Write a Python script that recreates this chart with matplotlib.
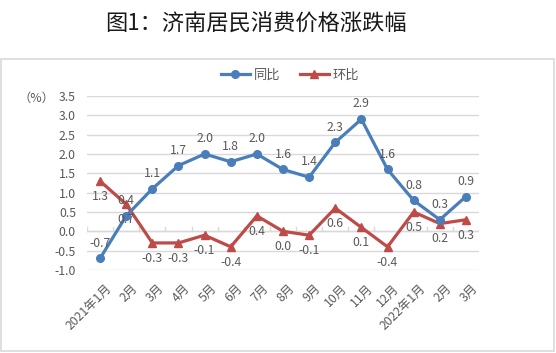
import matplotlib
matplotlib.use("Agg")
import matplotlib.pyplot as plt
from matplotlib.patches import Rectangle
from matplotlib.lines import Line2D
import matplotlib.transforms as mtransforms

plt.rcParams['font.family'] = ['Noto Sans CJK SC', 'DejaVu Sans']

categories = ["2021年1月", "2月", "3月", "4月", "5月", "6月", "7月", "8月", "9月",
              "10月", "11月", "12月", "2022年1月", "2月", "3月"]
yoy = [-0.7, 0.4, 1.1, 1.7, 2.0, 1.8, 2.0, 1.6, 1.4, 2.3, 2.9, 1.6, 0.8, 0.3, 0.9]
mom = [1.3, 0.7, -0.3, -0.3, -0.1, -0.4, 0.4, 0.0, -0.1, 0.6, 0.1, -0.4, 0.5, 0.2, 0.3]
yticks = [-1.0, -0.5, 0.0, 0.5, 1.0, 1.5, 2.0, 2.5, 3.0, 3.5]

W, H = 556, 353
fig = plt.figure(figsize=(W / 100, H / 100), dpi=100)
ax = fig.add_axes([87 / W, 1 - 270 / H, (479 - 87) / W, (270 - 96) / H])

blue = '#4A7EBB'
red = '#BE4B48'
txt = '#595959'
grid = '#D9D9D9'
fs = 8.8

x = list(range(len(categories)))
ax.plot(x, yoy, color=blue, lw=2.3, marker='o', ms=5.5, zorder=4, label='同比')
ax.plot(x, mom, color=red, lw=2.3, marker='^', ms=6, zorder=3, label='环比')

for i, v in enumerate(yoy):
    ax.annotate(f"{v:.1f}", (i, v), xytext=(0, 11), textcoords='offset points',
                ha='center', va='center', fontsize=fs, color=txt, zorder=5)
for i, v in enumerate(mom):
    ax.annotate(f"{v:.1f}", (i, v), xytext=(0, -11), textcoords='offset points',
                ha='center', va='center', fontsize=fs, color=txt, zorder=5)

ax.set_xlim(-0.5, len(categories) - 0.5)
ax.set_ylim(-1.0, 3.5)
ax.set_yticks(yticks)
ax.set_yticklabels([f"{t:.1f}" for t in yticks], fontsize=fs, color=txt)
ax.yaxis.grid(True, color=grid, lw=1)
ax.set_axisbelow(True)
ax.tick_params(axis='y', length=0, pad=8)
ax.tick_params(axis='x', length=0, labelbottom=False)
for s in ax.spines.values():
    s.set_visible(False)

# category axis at zero
ax.axhline(0, color=grid, lw=1, zorder=1)
for b in [i - 0.5 for i in range(len(categories) + 1)]:
    ax.plot([b, b], [0, 0.1], color=grid, lw=1, zorder=1)

# rotated category labels
trans = mtransforms.blended_transform_factory(ax.transData, ax.transAxes)
for i, c in enumerate(categories):
    ax.text(i + 0.2, -0.07, c, transform=trans, rotation=45, ha='right', va='top',
            rotation_mode='anchor', fontsize=fs, color=txt)

# title
fig.text(256 / W, 1 - 24 / H, "图1：济南居民消费价格涨跌幅", ha='center', va='center',
         fontsize=16, color='#1a1a1a')
# unit
fig.text(36 / W, 1 - 98 / H, "（%）", ha='center', va='center', fontsize=fs, color=txt)

# legend
leg_handles = [Line2D([0], [0], color=blue, lw=2.3, marker='o', ms=5.5),
               Line2D([0], [0], color=red, lw=2.3, marker='^', ms=6)]
fig.legend(leg_handles, ['同比', '环比'], loc='center', bbox_to_anchor=(290 / W, 1 - 75 / H),
           ncol=2, frameon=False, fontsize=9.5, handlelength=2.2, columnspacing=1.5,
           handletextpad=0.3, labelcolor=txt)

# chart border
fig.patches.append(Rectangle((1 / W, 1 - 351 / H), (554 - 1) / W, (351 - 59) / H,
                             transform=fig.transFigure, fill=False, edgecolor=grid, lw=1.2))

fig.savefig('out.png', dpi=100)
